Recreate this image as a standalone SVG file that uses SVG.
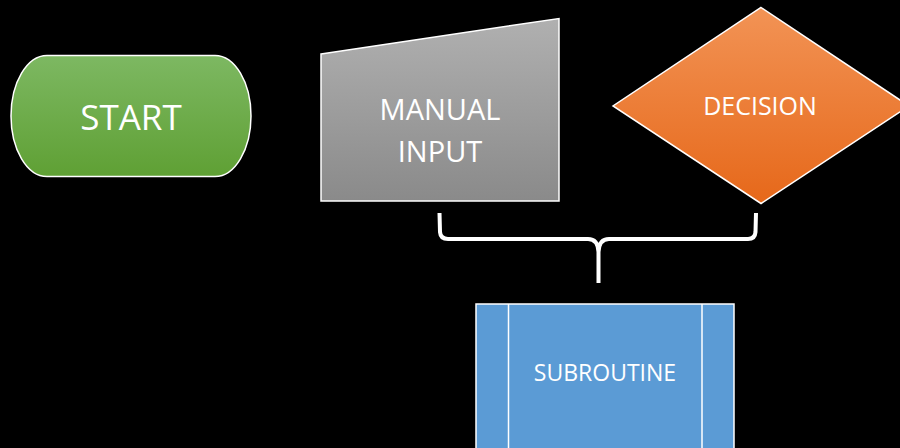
<svg xmlns="http://www.w3.org/2000/svg" width="900" height="448" viewBox="0 0 900 448">
<defs>
<linearGradient id="gGreen" x1="0" y1="0" x2="0" y2="1"><stop offset="0" stop-color="#7db862"/><stop offset="1" stop-color="#5fa034"/></linearGradient>
<linearGradient id="gGray" x1="0" y1="0" x2="0" y2="1"><stop offset="0" stop-color="#b0b0b0"/><stop offset="1" stop-color="#8a8a8a"/></linearGradient>
<linearGradient id="gOrange" x1="0" y1="0" x2="0" y2="1"><stop offset="0" stop-color="#f29355"/><stop offset="1" stop-color="#e6681a"/></linearGradient>
<style>
.shape{stroke:#ffffff;stroke-width:1.5}
.lbl{fill:#ffffff;font-family:"Open Sans","Liberation Sans",Arial,sans-serif;text-anchor:middle}
.conn{fill:none;stroke:#ffffff;stroke-width:4;stroke-linecap:butt;stroke-linejoin:round}
</style>
</defs>
<rect width="900" height="448" fill="#000000"/>
<g id="start">
<rect class="shape" x="11" y="55.5" width="240" height="121" rx="36" ry="60.5" fill="url(#gGreen)"/>
<text class="lbl" x="131" y="130" font-size="35">START</text>
</g>
<g id="manual-input">
<polygon class="shape" points="321,54 559,18.5 559,201 321,201" fill="url(#gGray)"/>
<text class="lbl" x="440" y="120" font-size="29">MANUAL</text>
<text class="lbl" x="440" y="162" font-size="29">INPUT</text>
</g>
<g id="decision">
<polygon class="shape" points="761,7.5 909,106 761,203.5 613,106" fill="url(#gOrange)"/>
<text class="lbl" x="760" y="115" font-size="25">DECISION</text>
</g>
<g id="subroutine">
<rect class="shape" x="476" y="304" width="258" height="160" fill="#5b9bd5"/>
<line class="shape" x1="508.5" y1="304" x2="508.5" y2="448"/>
<line class="shape" x1="702" y1="304" x2="702" y2="448"/>
<text class="lbl" x="605" y="381" font-size="23">SUBROUTINE</text>
</g>
<g id="connectors">
<path class="conn" d="M439.5,213 L440,232 Q440.5,239 448,239 L588,239 Q598,239 598.5,252 L598.5,283 M598.5,252 Q599,239 609,239 L748,239 Q755,239 755.5,232 L756,213"/>
</g>
</svg>
